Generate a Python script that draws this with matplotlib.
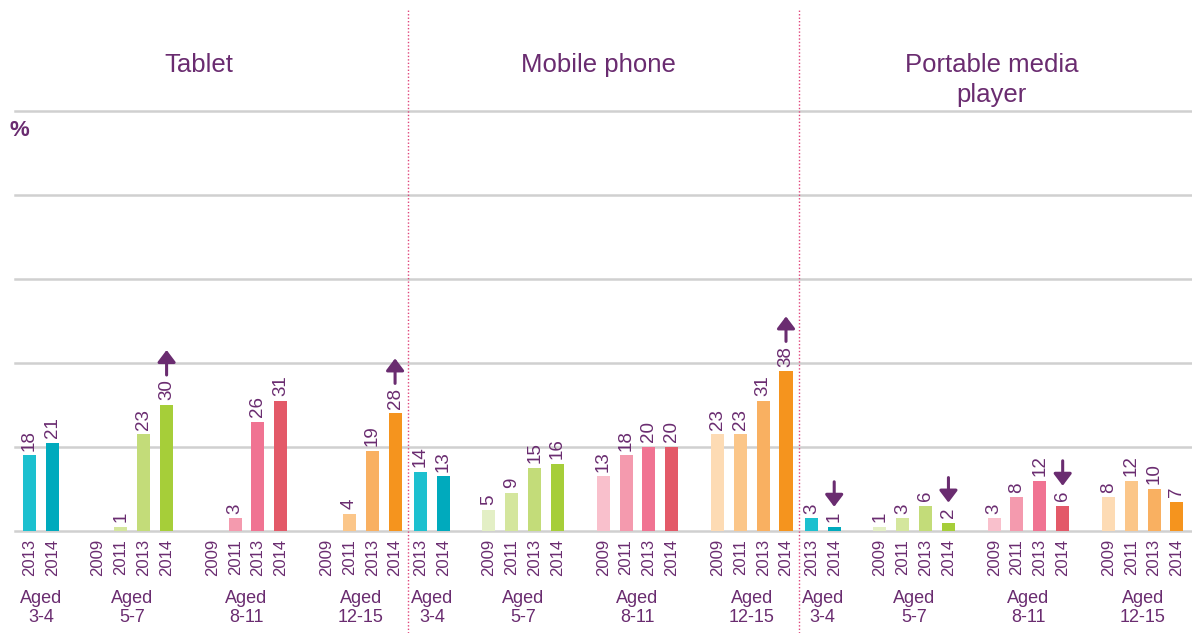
import matplotlib.pyplot as plt
from matplotlib.transforms import ScaledTranslation, blended_transform_factory

# Panels, age groups and survey years
panels = ['Tablet', 'Mobile phone', 'Portable media\nplayer']
age_groups = ['Aged\n3-4', 'Aged\n5-7', 'Aged\n8-11', 'Aged\n12-15']
group_years = [['2013', '2014'],
               ['2009', '2011', '2013', '2014'],
               ['2009', '2011', '2013', '2014'],
               ['2009', '2011', '2013', '2014']]

# Values (%), None = no data for that year
tablet = [[18, 21], [None, 1, 23, 30], [None, 3, 26, 31], [None, 4, 19, 28]]
mobile = [[14, 13], [5, 9, 15, 16], [13, 18, 20, 20], [23, 23, 31, 38]]
media_player = [[3, 1], [1, 3, 6, 2], [3, 8, 12, 6], [8, 12, 10, 7]]
panel_values = [tablet, mobile, media_player]

# significant change since previous wave: (panel, group, year) -> direction
changes = {(0, 1, '2014'): 'up', (0, 3, '2014'): 'up', (1, 3, '2014'): 'up',
           (2, 0, '2014'): 'down', (2, 1, '2014'): 'down', (2, 2, '2014'): 'down'}

colours = [['#1cc0cf', '#00aabd'],
           ['#e3efc5', '#d4e69d', '#c3dc79', '#a6ce39'],
           ['#f9c0cc', '#f49aae', '#f07392', '#e35968'],
           ['#fddbb4', '#fbc689', '#f9b061', '#f5941e']]

purple = '#6a2c70'
grid_col = '#d0d0d0'
sep_col = '#e0457b'

plt.rcParams['font.family'] = ['Liberation Sans', 'DejaVu Sans']

# layout (in bar slots)
panel_step = 17.11
group_start = [0, 3, 8, 13]
title_x = [7.4, 24.9, 42.1]
bar_w = 0.57

fig = plt.figure(figsize=(11.92, 6.33), dpi=100)
ax = fig.add_axes([15 / 1192, 102 / 633, 1177 / 1192, 420 / 633])
ax.set_xlim(-0.635, 50.88)
ax.set_ylim(0, 100)
for s in ax.spines.values():
    s.set_visible(False)
ax.set_yticks([])

for y in range(0, 101, 20):
    ax.axhline(y, color=grid_col, lw=1.8, zorder=1, clip_on=False)

xb = blended_transform_factory(ax.transData, ax.transAxes)
tick_x, tick_lab = [], []

for p, vals in enumerate(panel_values):
    for g, years in enumerate(group_years):
        xs = [p * panel_step + group_start[g] + i for i in range(len(years))]
        for i, (x, yr) in enumerate(zip(xs, years)):
            tick_x.append(x)
            tick_lab.append(yr)
            v = vals[g][i]
            if v is None:
                continue
            ax.bar(x, v, width=bar_w, color=colours[g][i], zorder=3)
            ax.annotate(str(v), (x, v), xytext=(0, 3.5), textcoords='offset points',
                        rotation=90, ha='center', va='bottom', fontsize=13.5, color=purple)
            d = changes.get((p, g, yr))
            if d:
                start = (5 + 10 * len(str(v)) + 5) * 0.72
                end = start + 25 * 0.72
                lo = ax.transData + ScaledTranslation(0, start / 72, fig.dpi_scale_trans)
                hi = ax.transData + ScaledTranslation(0, end / 72, fig.dpi_scale_trans)
                tip, tail = (hi, lo) if d == 'up' else (lo, hi)
                ax.annotate('', xy=(x, v), xycoords=tip, xytext=(x, v), textcoords=tail,
                            arrowprops=dict(arrowstyle='-|>,head_width=0.34,head_length=0.45',
                                            mutation_scale=16, lw=2.2, color=purple,
                                            shrinkA=0, shrinkB=0))
        ax.text((xs[0] + xs[-1]) / 2, -0.183, age_groups[g], transform=xb,
                ha='center', va='center', fontsize=13, color=purple, linespacing=1.15)
    ax.text(title_x[p], 1.138, panels[p], transform=xb, ha='center', va='top',
            fontsize=18.5, color=purple, linespacing=1.32)

# dotted separators between panels
for p in range(1, 3):
    ax.axvline(p * panel_step - (panel_step - 16) / 2, ymin=-0.243, ymax=1.24,
               clip_on=False, color=sep_col, ls=(0, (1, 1.5)), lw=1)

ax.set_xticks(tick_x, labels=tick_lab, rotation=90, fontsize=12, color=purple)
for lbl in ax.get_xticklabels():
    lbl.set_family(['Liberation Sans Narrow', 'Liberation Sans'])
ax.tick_params(axis='x', length=0, pad=5.5)

fig.text(9 / 1192, 1 - 120 / 633, '%', ha='left', va='top', fontsize=16,
         fontweight='bold', color=purple)

fig.savefig('out.png', dpi=100)
